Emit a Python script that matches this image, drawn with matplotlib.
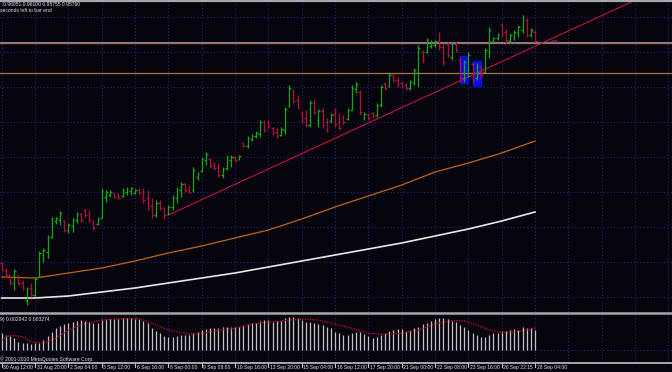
import matplotlib.pyplot as plt
import numpy as np
from matplotlib.lines import Line2D
from matplotlib.patches import Rectangle

# H4 bars, 30 Aug 12:00 .. 28 Sep 04:00
bar_open = [0.8911, 0.8890, 0.8875, 0.8851, 0.8875, 0.8851, 0.8800, 0.8836, 0.8815, 0.8869,
            0.8935, 0.8944, 0.8989, 0.9037, 0.9040, 0.9037, 0.9010, 0.9022, 0.9040, 0.9058,
            0.9070, 0.9058, 0.9037, 0.9028, 0.9046, 0.9109, 0.9115, 0.9121, 0.9115, 0.9112,
            0.9124, 0.9127, 0.9121, 0.9130, 0.9124, 0.9106, 0.9082, 0.9055, 0.9091, 0.9076,
            0.9058, 0.9079, 0.9106, 0.9130, 0.9148, 0.9133, 0.9130, 0.9169, 0.9187, 0.9220,
            0.9223, 0.9205, 0.9199, 0.9175, 0.9196, 0.9220, 0.9229, 0.9223, 0.9271, 0.9262,
            0.9283, 0.9292, 0.9298, 0.9334, 0.9334, 0.9316, 0.9304, 0.9295, 0.9310, 0.9382,
            0.9430, 0.9400, 0.9361, 0.9346, 0.9325, 0.9391, 0.9340, 0.9367, 0.9334, 0.9337,
            0.9358, 0.9334, 0.9349, 0.9343, 0.9370, 0.9433, 0.9424, 0.9346, 0.9358, 0.9361,
            0.9355, 0.9385, 0.9448, 0.9442, 0.9475, 0.9460, 0.9451, 0.9445, 0.9436, 0.9451,
            0.9484, 0.9544, 0.9544, 0.9562, 0.9565, 0.9580, 0.9559, 0.9568, 0.9529, 0.9568,
            0.9520, 0.9466, 0.9490, 0.9508, 0.9466, 0.9499, 0.9484, 0.9544, 0.9577, 0.9586,
            0.9625, 0.9604, 0.9577, 0.9589, 0.9601, 0.9610, 0.9640, 0.9595, 0.96051]
bar_high = [0.8914, 0.8896, 0.8875, 0.8893, 0.8875, 0.8860, 0.8839, 0.8851, 0.8869, 0.8947,
            0.8956, 0.8995, 0.9049, 0.9049, 0.9067, 0.9040, 0.9031, 0.9046, 0.9064, 0.9061,
            0.9073, 0.9070, 0.9040, 0.9049, 0.9136, 0.9130, 0.9130, 0.9121, 0.9121, 0.9136,
            0.9139, 0.9139, 0.9133, 0.9136, 0.9136, 0.9130, 0.9106, 0.9100, 0.9100, 0.9079,
            0.9085, 0.9115, 0.9139, 0.9154, 0.9151, 0.9145, 0.9199, 0.9184, 0.9229, 0.9244,
            0.9226, 0.9214, 0.9211, 0.9199, 0.9235, 0.9235, 0.9232, 0.9235, 0.9274, 0.9292,
            0.9298, 0.9307, 0.9340, 0.9340, 0.9340, 0.9319, 0.9316, 0.9319, 0.9379, 0.9445,
            0.9433, 0.9415, 0.9364, 0.9370, 0.9400, 0.9403, 0.9373, 0.9376, 0.9346, 0.9361,
            0.9376, 0.9361, 0.9355, 0.9376, 0.9445, 0.9454, 0.9430, 0.9364, 0.9361, 0.9364,
            0.9391, 0.9445, 0.9454, 0.9481, 0.9481, 0.9469, 0.9454, 0.9451, 0.9460, 0.9496,
            0.9565, 0.9550, 0.9586, 0.9580, 0.9580, 0.9604, 0.9571, 0.9574, 0.9574, 0.9574,
            0.9529, 0.9520, 0.9544, 0.9514, 0.9511, 0.9502, 0.9556, 0.9619, 0.9589, 0.9601,
            0.9631, 0.9613, 0.9601, 0.9610, 0.9625, 0.9655, 0.9646, 0.9616, 0.96100]
bar_low = [0.8884, 0.8869, 0.8845, 0.8830, 0.8845, 0.8830, 0.8785, 0.8809, 0.8809, 0.8869,
           0.8914, 0.8926, 0.8986, 0.9028, 0.9025, 0.9004, 0.9001, 0.9004, 0.9031, 0.9034,
           0.9049, 0.9034, 0.9010, 0.9025, 0.9046, 0.9094, 0.9109, 0.9106, 0.9103, 0.9109,
           0.9115, 0.9115, 0.9118, 0.9118, 0.9091, 0.9070, 0.9046, 0.9049, 0.9070, 0.9046,
           0.9055, 0.9070, 0.9091, 0.9109, 0.9124, 0.9121, 0.9124, 0.9160, 0.9184, 0.9205,
           0.9196, 0.9190, 0.9169, 0.9166, 0.9190, 0.9199, 0.9214, 0.9220, 0.9259, 0.9256,
           0.9277, 0.9286, 0.9289, 0.9304, 0.9316, 0.9295, 0.9286, 0.9292, 0.9298, 0.9379,
           0.9391, 0.9373, 0.9331, 0.9319, 0.9319, 0.9355, 0.9319, 0.9316, 0.9304, 0.9331,
           0.9319, 0.9310, 0.9328, 0.9340, 0.9370, 0.9421, 0.9355, 0.9340, 0.9340, 0.9346,
           0.9349, 0.9379, 0.9430, 0.9439, 0.9454, 0.9439, 0.9436, 0.9430, 0.9430, 0.9445,
           0.9439, 0.9511, 0.9541, 0.9556, 0.9559, 0.9550, 0.9505, 0.9529, 0.9520, 0.9544,
           0.9454, 0.9454, 0.9469, 0.9451, 0.9460, 0.9466, 0.9484, 0.9526, 0.9571, 0.9580,
           0.9589, 0.9571, 0.9571, 0.9580, 0.9589, 0.9601, 0.9589, 0.9589, 0.95755]
bar_close = [0.8890, 0.8875, 0.8851, 0.8887, 0.8851, 0.8836, 0.8833, 0.8815, 0.8863, 0.8941,
             0.8950, 0.8989, 0.9043, 0.9046, 0.9061, 0.9010, 0.9025, 0.9040, 0.9058, 0.9040,
             0.9055, 0.9040, 0.9016, 0.9043, 0.9127, 0.9124, 0.9124, 0.9109, 0.9106, 0.9130,
             0.9133, 0.9136, 0.9130, 0.9121, 0.9100, 0.9076, 0.9055, 0.9091, 0.9076, 0.9055,
             0.9079, 0.9109, 0.9133, 0.9148, 0.9130, 0.9124, 0.9190, 0.9178, 0.9223, 0.9238,
             0.9202, 0.9196, 0.9175, 0.9193, 0.9229, 0.9229, 0.9220, 0.9232, 0.9262, 0.9286,
             0.9292, 0.9301, 0.9334, 0.9310, 0.9322, 0.9301, 0.9292, 0.9313, 0.9373, 0.9436,
             0.9397, 0.9379, 0.9337, 0.9325, 0.9391, 0.9364, 0.9367, 0.9325, 0.9310, 0.9355,
             0.9328, 0.9316, 0.9334, 0.9370, 0.9436, 0.9448, 0.9364, 0.9358, 0.9346, 0.9352,
             0.9385, 0.9439, 0.9436, 0.9475, 0.9460, 0.9445, 0.9439, 0.9436, 0.9454, 0.9490,
             0.9556, 0.9520, 0.9580, 0.9574, 0.9577, 0.9559, 0.9514, 0.9535, 0.9568, 0.9550,
             0.9466, 0.9514, 0.9535, 0.9460, 0.9502, 0.9475, 0.9550, 0.9610, 0.9586, 0.9595,
             0.9598, 0.9580, 0.9595, 0.9604, 0.9619, 0.9649, 0.9595, 0.9610, 0.95760]

# moving averages, read every 8 bars
ma_bars = [0, 8, 16, 24, 32, 40, 48, 56, 64, 72, 80, 88, 96, 104, 112, 120, 128]
ma_orange = [0.8869, 0.8866, 0.8881, 0.8896, 0.8917, 0.8941, 0.8962, 0.8986, 0.9010,
             0.9043, 0.9079, 0.9112, 0.9145, 0.9184, 0.9211, 0.9241, 0.9277]
ma_white = [0.8806, 0.8806, 0.8812, 0.8824, 0.8836, 0.8851, 0.8866, 0.8881, 0.8899,
            0.8917, 0.8935, 0.8953, 0.8971, 0.8992, 0.9013, 0.9037, 0.9064]

# MACD(12,26,9) main histogram
macd = [0.00245, 0.00221, 0.00206, 0.00172, 0.00123, 0.00108, 0.00098, 0.00088, 0.00098, 0.00108,
        0.00147, 0.00206, 0.00270, 0.00319, 0.00353, 0.00382, 0.00402, 0.00417, 0.00431, 0.00441,
        0.00431, 0.00417, 0.00392, 0.00402, 0.00441, 0.00451, 0.00461, 0.00461, 0.00461, 0.00466,
        0.00466, 0.00466, 0.00461, 0.00451, 0.00431, 0.00392, 0.00319, 0.00284, 0.00255, 0.00206,
        0.00186, 0.00196, 0.00206, 0.00221, 0.00221, 0.00221, 0.00255, 0.00270, 0.00294, 0.00304,
        0.00319, 0.00319, 0.00319, 0.00333, 0.00333, 0.00343, 0.00333, 0.00343, 0.00368, 0.00382,
        0.00392, 0.00402, 0.00431, 0.00441, 0.00441, 0.00417, 0.00431, 0.00431, 0.00466, 0.00490,
        0.00480, 0.00466, 0.00441, 0.00417, 0.00417, 0.00402, 0.00382, 0.00368, 0.00343, 0.00319,
        0.00270, 0.00245, 0.00221, 0.00221, 0.00255, 0.00270, 0.00270, 0.00230, 0.00206, 0.00172,
        0.00186, 0.00221, 0.00245, 0.00284, 0.00294, 0.00304, 0.00304, 0.00284, 0.00294, 0.00319,
        0.00343, 0.00382, 0.00402, 0.00431, 0.00451, 0.00466, 0.00466, 0.00451, 0.00431, 0.00417,
        0.00368, 0.00333, 0.00294, 0.00255, 0.00221, 0.00196, 0.00186, 0.00221, 0.00245, 0.00255,
        0.00284, 0.00284, 0.00294, 0.00304, 0.00294, 0.00333, 0.00319, 0.00319, 0.002942]
sig_bars = [0, 2, 5, 7, 10, 13, 16, 20, 24, 28, 32, 34, 37, 40, 44, 46, 49, 52, 56, 59,
            63, 66, 69, 72, 76, 80, 84, 88, 92, 96, 100, 104, 108, 111, 114, 117, 120, 124, 127, 128]
signal = [0.00147, 0.00221, 0.00196, 0.00123, 0.00098, 0.00172, 0.00294, 0.00392, 0.00441, 0.00456,
          0.00466, 0.00441, 0.00368, 0.00294, 0.00245, 0.00230, 0.00255, 0.00294, 0.00319, 0.00368,
          0.00402, 0.00417, 0.00441, 0.00451, 0.00441, 0.00380, 0.00319, 0.00245, 0.00230, 0.00245,
          0.00294, 0.00382, 0.00431, 0.00431, 0.00368, 0.00294, 0.00255, 0.00270, 0.00304, 0.003274]

# drawn objects
trend_bars = [40, 161]
trend_prices = [0.9055, 0.9751]
hlines_orange = [0.9571, 0.9481]
hline_violet = 0.9574
boxes = [(110.1, 112.0, 0.9451, 0.9532), (113.0, 115.1, 0.9442, 0.9517)]  # bar0, bar1, lo, hi

grid_prices = [0.9649, 0.9544, 0.9439, 0.9334, 0.9229, 0.9124, 0.9019, 0.8914, 0.8809]
time_labels = ["30 Aug 12:00", "31 Aug 20:00", "2 Sep 04:00", "3 Sep 12:00", "6 Sep 16:00",
               "8 Sep 00:00", "9 Sep 08:00", "10 Sep 16:00", "13 Sep 20:00", "15 Sep 04:00",
               "16 Sep 12:00", "17 Sep 20:00", "21 Sep 00:00", "22 Sep 08:00", "23 Sep 16:00",
               "26 Sep 22:15", "28 Sep 04:00"]

bg = '#06050e'
grid_c = '#22227a'
up_c = '#14a814'
dn_c = '#b0103c'
W, H = 672, 372
x0_px, step_px = 1.7, 4.1667
xlim = ((0 - x0_px) / step_px, (W - x0_px) / step_px)
small = ['Liberation Sans', 'DejaVu Sans']
fs = 3.6

fig = plt.figure(figsize=(W / 100, H / 100), dpi=100, facecolor=bg)
ax = fig.add_axes([0, 60 / H, 1, 312 / H], facecolor=bg)
sub = fig.add_axes([0, 10 / H, 1, 49 / H], facecolor=bg)

idx = np.arange(len(bar_close))
o = np.array(bar_open)
c = np.array(bar_close)
cols = np.where(c >= o, up_c, dn_c)

for a in (ax, sub):
    a.set_xlim(*xlim)
    a.set_xticks([])
    a.set_yticks([])
    for s in a.spines.values():
        s.set_visible(False)
    for gx in range(0, 161, 8):
        a.axvline(gx, color=grid_c, lw=0.8, ls=(0, (1, 2)), zorder=0)

# main window
ax.set_ylim(0.8764, 0.9700)
for gp in grid_prices:
    ax.axhline(gp, color=grid_c, lw=0.8, ls=(0, (1, 2)), zorder=0)

for b0, b1, lo, hi in boxes:
    ax.add_patch(Rectangle((b0, lo), b1 - b0, hi - lo, color='#0a0ae6', zorder=1))

ax.plot(ma_bars, ma_orange, color='#c0641c', lw=0.9, zorder=2)
ax.plot(ma_bars, ma_white, color='#e8e8e8', lw=1.2, zorder=2)
for hp in hlines_orange:
    ax.axhline(hp, color='#b07838', lw=0.9, zorder=2)
ax.axhline(hline_violet, color='#7a74b0', lw=0.8, zorder=2)
ax.plot(trend_bars, trend_prices, color='#c0143c', lw=0.8, zorder=2)

ax.vlines(idx, bar_low, bar_high, colors=cols, lw=0.9, zorder=3)
ax.hlines(o, idx - 0.4, idx, colors=cols, lw=0.9, zorder=3)
ax.hlines(c, idx, idx + 0.4, colors=cols, lw=0.9, zorder=3)

ax.text(131.5, hline_violet, "<30", color='#c040c0', fontsize=fs, va='center', family=small)

# MACD sub-window
sub.set_ylim(-0.00176, 0.00544)
sub.axhline(0, color=grid_c, lw=0.8, ls=(0, (1, 2)), zorder=0)
sub.vlines(idx, 0, macd, colors='#c4c4c4', lw=0.9, zorder=2)
sub.plot(sig_bars, signal, color='#d01030', lw=0.9, ls=(0, (1, 1)), zorder=3)

# frame lines
for ypx, lw in ((1, 1.6), (313, 1.8), (362.5, 1.4)):
    fig.add_artist(Line2D([0, 1], [1 - ypx / H] * 2, color='#a8a8a8', lw=lw))

# texts
fig.text(3 / W, 1 - 5 / H, "0.96051 0.96100 0.95755 0.95760", color='#e0e0e0',
         fontsize=fs, va='center', family=small)
fig.text(0.5 / W, 1 - 11 / H, "seconds left to bar end", color='#e0e0e0',
         fontsize=fs, va='center', family=small)
fig.text(0.5 / W, 1 - 319 / H, "9) 0.002942 0.003274", color='#e0e0e0',
         fontsize=fs, va='center', family=small)
fig.text(0.5 / W, 1 - 359 / H, "\u00a9 2001-2010 MetaQuotes Software Corp.", color='#e0e0e0',
         fontsize=fs, va='center', family=small)

for k, lab in enumerate(time_labels):
    xp = x0_px + step_px * 8 * k
    fig.add_artist(Line2D([xp / W] * 2, [1 - 363 / H, 1 - 367 / H], color='#c0c0c0', lw=0.8))
    fig.text((xp + 1.5) / W, 1 - 367.5 / H, lab, color='#e0e0e0', fontsize=fs,
             va='center', family=small)

fig.savefig('out.png', dpi=100, facecolor=bg)
